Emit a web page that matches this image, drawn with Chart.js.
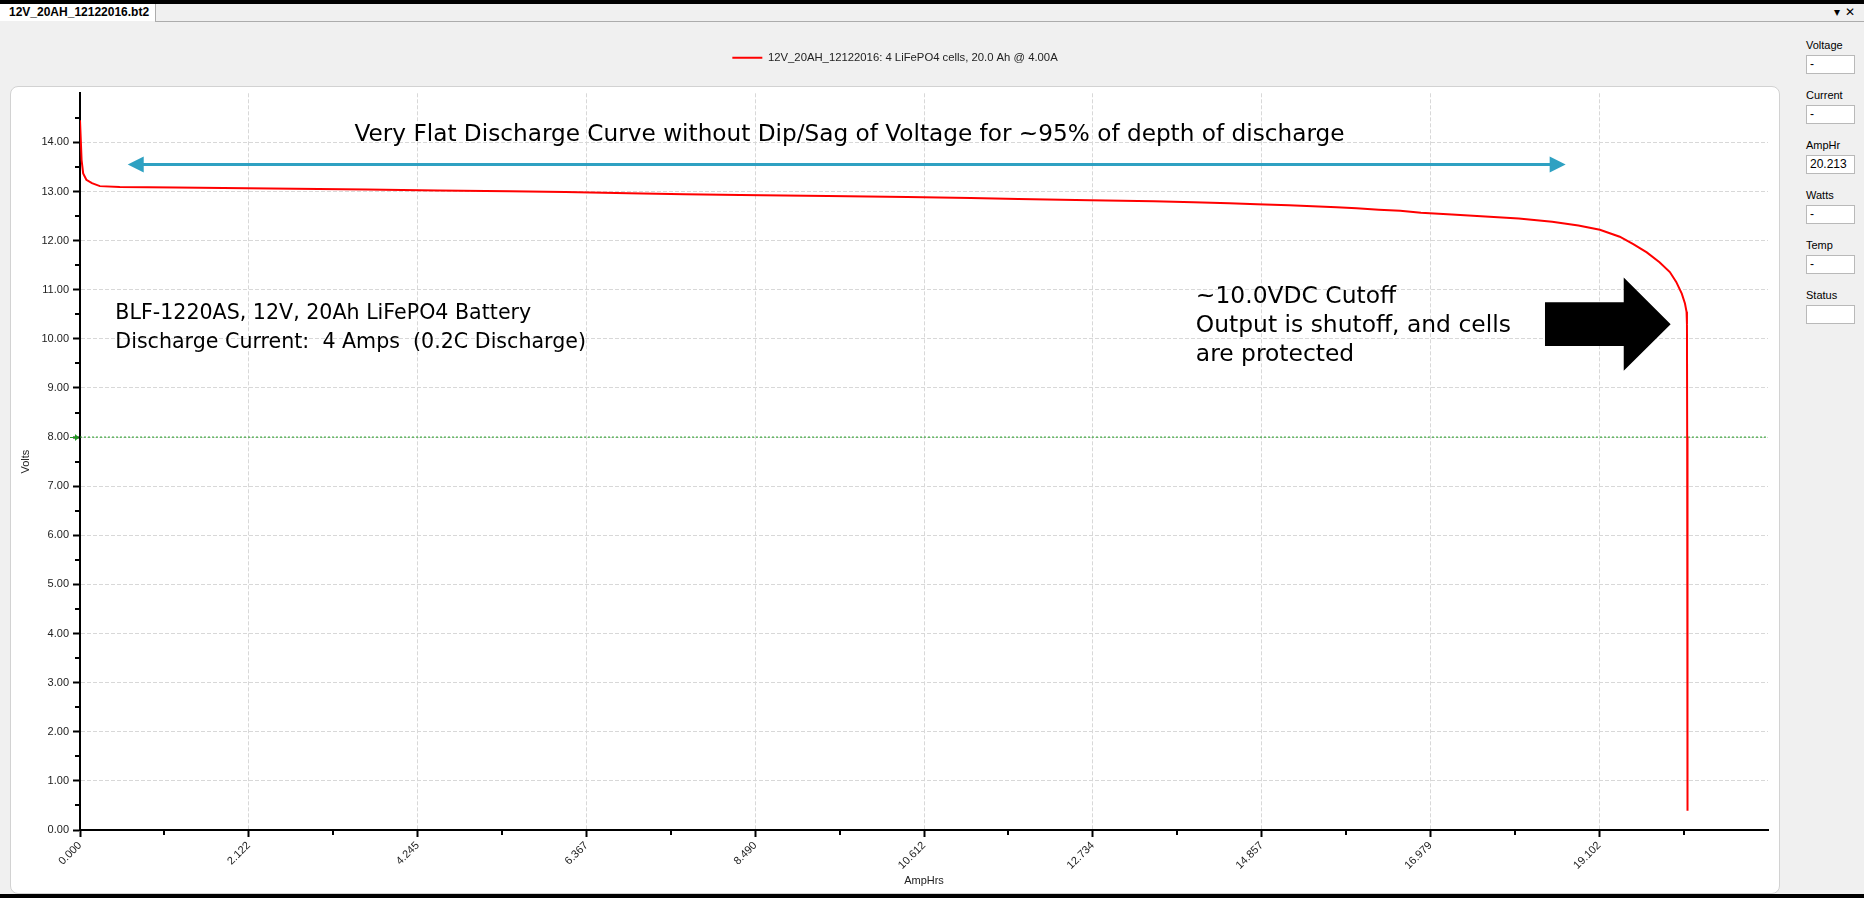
<!DOCTYPE html>
<html>
<head>
<meta charset="utf-8">
<title>12V_20AH_12122016.bt2</title>
<script src="https://cdn.jsdelivr.net/npm/chart.js@4.4.1/dist/chart.umd.min.js"></script>
<style>
  html, body { margin: 0; padding: 0; }
  body {
    width: 1864px; height: 898px; position: relative; overflow: hidden;
    background: #f0f0f0; font-family: "Liberation Sans", Arial, sans-serif; color: #000;
  }
  #topbar { position: absolute; left: 0; top: 0; width: 1864px; height: 4px; background: #000; z-index: 3; }
  #tabline { position: absolute; left: 155px; right: 0; top: 21px; height: 1px; background: #acacac; z-index: 3; }
  #tab {
    position: absolute; left: 0; top: 4px; width: 156px; height: 17px; box-sizing: border-box;
    background: #fff; border-right: 1px solid #acacac; padding-left: 9px;
    font: bold 12px "Liberation Sans", Arial, sans-serif; line-height: 16px; z-index: 3;
  }
  #winctl { position: absolute; left: 1834px; top: 4px; width: 30px; height: 17px; white-space: nowrap; font: 12px "DejaVu Sans", sans-serif; line-height: 16px; z-index: 3; }
  #winctl span { display: inline-block; margin-right: 5px; }
  #panel {
    position: absolute; left: 10px; top: 86px; width: 1770px; height: 808px; box-sizing: border-box;
    background: #fff; border: 1px solid #d2d2d2; border-radius: 8px; z-index: 0;
  }
  #chart { position: absolute; left: 0; top: 0; z-index: 1; }
  #bottombar { position: absolute; left: 0; top: 894px; width: 1864px; height: 4px; background: #000; z-index: 3; }
  .side-label { position: absolute; left: 1806px; font-size: 11px; line-height: 14px; color: #000; }
  .side-box {
    position: absolute; left: 1806px; width: 49px; height: 19px; box-sizing: border-box;
    background: #fff; border: 1px solid #b9b9b9; font-size: 12px; line-height: 17px; padding-left: 3px;
  }
</style>
</head>
<body>
<div id="topbar"></div>
<div id="tab">12V_20AH_12122016.bt2</div>
<div id="tabline"></div>
<div id="winctl"><span>&#9662;</span><span>&#10005;</span></div>
<div id="panel"></div>
<canvas id="chart" width="1780" height="898"></canvas>
<div id="bottombar"></div>
<div id="side"></div>

<script>
// ---- Discharge log: 12V 20Ah LiFePO4 pack at 4.00 A constant current ----
const SERIES_LABEL = '12V_20AH_12122016: 4 LiFePO4 cells, 20.0 Ah @ 4.00A';

// Capacity removed (Ah)
const AMP_HOURS = [
  0, 0.02, 0.04, 0.08, 0.15, 0.25, 0.5, 1.2, 2.1, 3.0,
  3.6, 4.5, 5.4, 6.1, 6.9, 7.6, 8.3, 9.4, 10.4, 11.2,
  11.8, 12.7, 13.5, 14.0, 14.45, 14.8, 15.2, 15.5, 15.8, 16.05,
  16.33, 16.6, 16.86, 17.25, 17.67, 18.09, 18.51, 18.84, 19.11, 19.36,
  19.53, 19.70, 19.86, 19.99, 20.07, 20.14, 20.18, 20.20, 20.205, 20.208,
  20.211, 20.213
];

// Pack voltage at each point (V)
const VOLTS = [
  14.45, 13.64, 13.37, 13.24, 13.17, 13.11, 13.09, 13.08, 13.065, 13.05,
  13.04, 13.02, 13.005, 12.99, 12.965, 12.945, 12.93, 12.91, 12.89, 12.87,
  12.85, 12.82, 12.80, 12.78, 12.76, 12.74, 12.72, 12.70, 12.68, 12.66,
  12.63, 12.61, 12.57, 12.53, 12.49, 12.45, 12.385, 12.31, 12.22, 12.08,
  11.93, 11.76, 11.56, 11.36, 11.16, 10.92, 10.72, 10.55, 10.30, 8.00,
  4.00, 0.39
];

// Low-voltage limit line (V)
const LIMIT_VOLTS = [8.0, 8.0];
const LIMIT_AMP_HOURS = [0, 21.224];

// Axis ranges and tick labels
const X_MAX = 21.224;
const Y_MAX = 15;
const X_TICK_LABELS = ['0.000', '2.122', '4.245', '6.367', '8.490', '10.612', '12.734', '14.857', '16.979', '19.102'];
const Y_TICK_LABELS = ['0.00', '1.00', '2.00', '3.00', '4.00', '5.00', '6.00', '7.00', '8.00', '9.00', '10.00', '11.00', '12.00', '13.00', '14.00'];

// Readouts on the side panel
const SIDE_FIELDS = ['Voltage', 'Current', 'AmpHr', 'Watts', 'Temp', 'Status'];
const SIDE_VALUES = ['-', '-', '20.213', '-', '-', ''];

// ---- side panel ----
const side = document.getElementById('side');
SIDE_FIELDS.forEach((name, i) => {
  const top = 38 + i * 50;
  const lab = document.createElement('div');
  lab.className = 'side-label';
  lab.style.top = top + 'px';
  lab.textContent = name;
  const box = document.createElement('div');
  box.className = 'side-box';
  box.style.top = (top + 17) + 'px';
  box.textContent = SIDE_VALUES[i];
  side.appendChild(lab);
  side.appendChild(box);
});

// ---- chart ----
const xTickValues = X_TICK_LABELS.map(Number);
const yTickValues = Y_TICK_LABELS.map(Number);

const TICK_FONT = { family: '"Liberation Sans", Arial, sans-serif', size: 11 };
const LEGEND_FONT = { family: '"Liberation Sans", Arial, sans-serif', size: 11.3 };
const NOTE_FAMILY = '"DejaVu Sans", sans-serif';
const ARROW_TEAL = '#2ea1c2';

// Empty band between the legend and the plot area; legend sits a little right of centre
const legendGap = {
  id: 'legendGap',
  beforeInit(chart) {
    Chart.layouts.addBox(chart, {
      position: 'top', weight: 500, fullSize: true, options: {},
      left: 0, top: 0, right: 0, bottom: 0, width: 0, height: 0,
      isHorizontal() { return true; },
      update(maxWidth) { this.width = maxWidth; this.height = 20; },
      draw() {}
    });
  },
  afterLayout(chart) {
    if (chart.legend) {
      chart.legend.left += 6;
      chart.legend.right += 6;
    }
  }
};

// Short unlabelled tick marks halfway between the labelled ones
const minorTicks = {
  id: 'minorTicks',
  afterDraw(chart) {
    const { ctx, chartArea: ca, scales: { x, y } } = chart;
    ctx.save();
    ctx.strokeStyle = '#000';
    ctx.lineWidth = 2;
    ctx.beginPath();
    const xs = xTickValues;
    for (let i = 0; i < xs.length; i++) {
      const v = i < xs.length - 1 ? (xs[i] + xs[i + 1]) / 2 : xs[i] + (xs[i] - xs[i - 1]) / 2;
      const px = Math.round(x.getPixelForValue(v));
      ctx.moveTo(px, ca.bottom);
      ctx.lineTo(px, ca.bottom + 5);
    }
    const ys = yTickValues;
    for (let i = 0; i < ys.length; i++) {
      const v = i < ys.length - 1 ? (ys[i] + ys[i + 1]) / 2 : ys[i] + (ys[i] - ys[i - 1]) / 2;
      const py = Math.round(y.getPixelForValue(v));
      ctx.moveTo(ca.left, py);
      ctx.lineTo(ca.left - 5, py);
    }
    ctx.stroke();
    ctx.restore();
  }
};

// Callouts drawn in data coordinates (Ah, V)
const NOTES = [
  { lines: ['Very Flat Discharge Curve without Dip/Sag of Voltage for ~95% of depth of discharge'], ah: 9.675, v: 14.02, size: 23.2, align: 'center', step: 0 },
  { lines: ['BLF-1220AS, 12V, 20Ah LiFePO4 Battery', 'Discharge Current:  4 Amps  (0.2C Discharge)'], ah: 0.444, v: 10.41, size: 20.6, align: 'left', step: 0.5875 },
  { lines: ['~10.0VDC Cutoff', 'Output is shutoff, and cells', 'are protected'], ah: 14.03, v: 10.74, size: 23.4, align: 'left', step: 0.6 }
];
const SPAN_ARROW = { from: 0.60, to: 18.68, v: 13.55 };
const BLOCK_ARROW = { tail: 18.42, neck: 19.41, tip: 20.0, mid: 10.30, body: 0.445, head: 0.95 };

const callouts = {
  id: 'callouts',
  afterDatasetsDraw(chart) {
    const { ctx, chartArea: ca, scales: { x, y } } = chart;
    ctx.save();

    // text
    ctx.fillStyle = '#000';
    ctx.textBaseline = 'alphabetic';
    NOTES.forEach(n => {
      ctx.font = n.size + 'px ' + NOTE_FAMILY;
      ctx.textAlign = n.align;
      n.lines.forEach((t, i) => {
        ctx.fillText(t, x.getPixelForValue(n.ah), y.getPixelForValue(n.v - i * n.step));
      });
    });

    // double-headed span arrow
    const ay = y.getPixelForValue(SPAN_ARROW.v);
    const ax1 = x.getPixelForValue(SPAN_ARROW.from);
    const ax2 = x.getPixelForValue(SPAN_ARROW.to);
    const hl = 16, hw = 8;
    ctx.strokeStyle = ARROW_TEAL;
    ctx.fillStyle = ARROW_TEAL;
    ctx.lineWidth = 3;
    ctx.beginPath();
    ctx.moveTo(ax1 + hl - 2, ay);
    ctx.lineTo(ax2 - hl + 2, ay);
    ctx.stroke();
    ctx.beginPath();
    ctx.moveTo(ax1, ay); ctx.lineTo(ax1 + hl, ay - hw); ctx.lineTo(ax1 + hl, ay + hw); ctx.closePath();
    ctx.moveTo(ax2, ay); ctx.lineTo(ax2 - hl, ay - hw); ctx.lineTo(ax2 - hl, ay + hw); ctx.closePath();
    ctx.fill();

    // block arrow pointing at the cutoff
    const b = BLOCK_ARROW;
    const px = v => x.getPixelForValue(v), py = v => y.getPixelForValue(v);
    ctx.fillStyle = '#000';
    ctx.beginPath();
    ctx.moveTo(px(b.tail), py(b.mid + b.body));
    ctx.lineTo(px(b.neck), py(b.mid + b.body));
    ctx.lineTo(px(b.neck), py(b.mid + b.head));
    ctx.lineTo(px(b.tip), py(b.mid));
    ctx.lineTo(px(b.neck), py(b.mid - b.head));
    ctx.lineTo(px(b.neck), py(b.mid - b.body));
    ctx.lineTo(px(b.tail), py(b.mid - b.body));
    ctx.closePath();
    ctx.fill();

    // marker for the limit line on the voltage axis
    const gy = Math.round(y.getPixelForValue(LIMIT_VOLTS[0])) + 0.5;
    ctx.fillStyle = '#1f9a1f';
    ctx.strokeStyle = '#1f9a1f';
    ctx.lineWidth = 1;
    ctx.beginPath();
    ctx.moveTo(ca.left - 10, gy); ctx.lineTo(ca.left - 4, gy); ctx.stroke();
    ctx.beginPath();
    ctx.moveTo(ca.left - 1, gy); ctx.lineTo(ca.left - 5, gy - 3.5); ctx.lineTo(ca.left - 5, gy + 3.5); ctx.closePath();
    ctx.fill();

    ctx.restore();
  }
};

const gridCommon = {
  color: '#d8d8d8',
  lineWidth: 1,
  tickColor: '#000',
  tickWidth: 2,
  tickLength: 7,
  drawTicks: true
};

new Chart(document.getElementById('chart'), {
  type: 'line',
  data: {
    datasets: [
      {
        label: SERIES_LABEL,
        data: AMP_HOURS.map((ah, i) => ({ x: ah, y: VOLTS[i] })),
        borderColor: '#ff0000',
        backgroundColor: '#ff0000',
        borderWidth: 2,
        pointRadius: 0,
        tension: 0,
        order: 1
      },
      {
        label: 'limit',
        data: LIMIT_AMP_HOURS.map((ah, i) => ({ x: ah, y: LIMIT_VOLTS[i] })),
        borderColor: '#1f9a1f',
        borderWidth: 1,
        borderDash: [2, 2],
        pointRadius: 0,
        order: 2
      }
    ]
  },
  options: {
    responsive: false,
    devicePixelRatio: 1,
    animation: false,
    events: [],
    layout: { padding: { left: 10, right: 12, top: 42, bottom: 6 } },
    plugins: {
      tooltip: { enabled: false },
      legend: {
        display: true,
        position: 'top',
        labels: {
          font: LEGEND_FONT,
          color: '#222',
          boxWidth: 30,
          boxHeight: 2,
          padding: 10,
          generateLabels: chart =>
            Chart.defaults.plugins.legend.labels.generateLabels(chart).map(l => ({ ...l, lineWidth: 0 })),
          filter: item => item.datasetIndex === 0
        }
      }
    },
    scales: {
      x: {
        type: 'linear',
        min: 0,
        max: X_MAX,
        afterBuildTicks: s => { s.ticks = xTickValues.map(v => ({ value: v })); },
        afterFit: s => { s.height = 62; },
        grid: gridCommon,
        border: { display: true, color: '#000', width: 2, dash: [4, 2] },
        ticks: {
          autoSkip: false,
          minRotation: 45,
          maxRotation: 45,
          padding: 2,
          font: TICK_FONT,
          color: '#222',
          callback: (v, i) => X_TICK_LABELS[i]
        },
        title: { display: true, text: 'AmpHrs', font: TICK_FONT, color: '#222', padding: { top: 4, bottom: 4 } }
      },
      y: {
        type: 'linear',
        min: 0,
        max: Y_MAX,
        afterBuildTicks: s => { s.ticks = yTickValues.map(v => ({ value: v })); },
        afterFit: s => { s.width = 70; },
        grid: gridCommon,
        border: { display: true, color: '#000', width: 2, dash: [4, 2] },
        ticks: {
          padding: 4,
          font: TICK_FONT,
          color: '#222',
          callback: (v, i) => Y_TICK_LABELS[i]
        },
        title: { display: true, text: 'Volts', font: TICK_FONT, color: '#222', padding: { top: 9, bottom: 4 } }
      }
    }
  },
  plugins: [legendGap, minorTicks, callouts]
});
</script>
</body>
</html>
